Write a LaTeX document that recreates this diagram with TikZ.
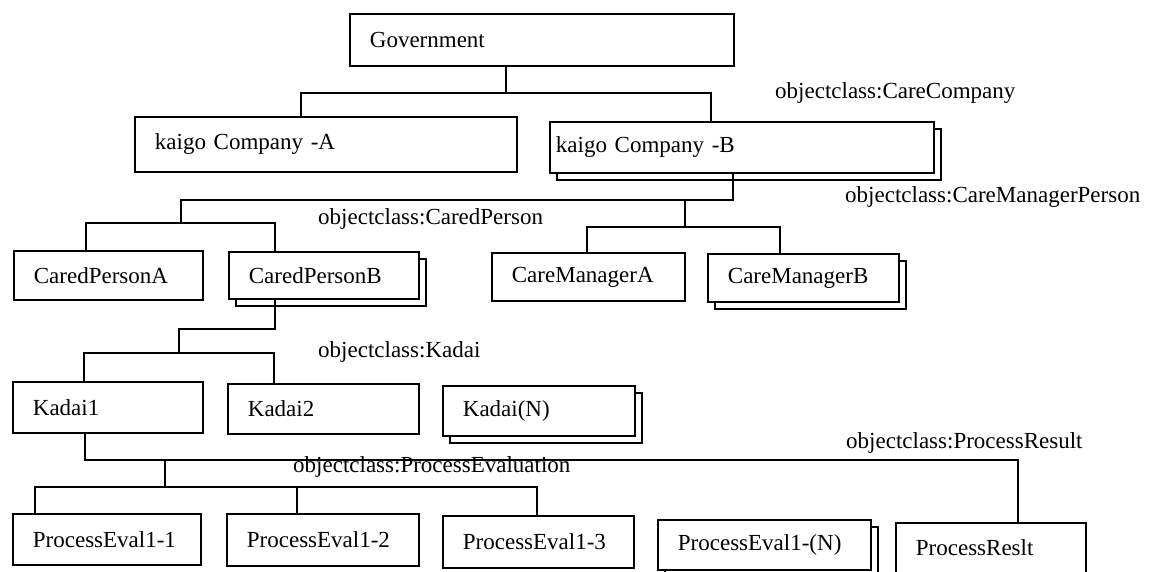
\documentclass[tikz,border=0pt]{standalone}
\usepackage{fontspec}
\setmainfont{Liberation Serif}
\usetikzlibrary{shadows}
\begin{document}
\begin{tikzpicture}[x=1pt,y=-1pt,
  every node/.style={font=\fontsize{23}{27}\selectfont},
  box/.style 2 args={draw, fill=white, line width=1.8pt, inner xsep=20pt,
    inner ysep=0pt, text width=#1, minimum height=#2, align=left,
    anchor=north west},
  stack/.style={copy shadow={shadow xshift=7pt, shadow yshift=-7pt}},
  link/.style={line width=1.8pt},
  cls/.style={anchor=west, inner sep=0pt}]
\useasboundingbox (0,0) rectangle (1158,571);

% level 0
\node[box={344pt}{52pt}] (gov) at (349,13) {Government};
% level 1: care companies
\node[box={342pt}{55pt}] (kA) at (134,116) {kaigo Company -A};
\node[box={372pt}{51pt}, inner xsep=6pt, stack] (kB) at (549,121) {kaigo Company -B};
% level 2: cared persons and care managers
\node[box={149pt}{49pt}] (cpA) at (13,250) {CaredPersonA};
\node[box={150pt}{47pt}, stack] (cpB) at (228,251) {CaredPersonB};
\node[box={153pt}{48pt}] (cmA) at (491,252) {CareManagerA};
\node[box={151pt}{48pt}, stack] (cmB) at (707,253) {CareManagerB};
% level 3: kadai
\node[box={150pt}{51pt}] (k1) at (12,381) {Kadai1};
\node[box={151pt}{50pt}] (k2) at (227,383) {Kadai2};
\node[box={152pt}{50pt}, stack] (kN) at (442,385) {Kadai(N)};
% level 4: process evaluations and result
\node[box={148pt}{51pt}] (pe1) at (12,513) {ProcessEval1-1};
\node[box={152pt}{52pt}] (pe2) at (226,513) {ProcessEval1-2};
\node[box={151pt}{52pt}] (pe3) at (442,515) {ProcessEval1-3};
\node[box={173pt}{50pt}, stack] (peN) at (657,519) {ProcessEval1-(N)};
\node[box={150pt}{50pt}] (pr) at (895,522) {ProcessReslt};

% object class labels
\node[cls] (lcc) at (775,93) {objectclass:CareCompany};
\node[cls] (lcp) at (318,219) {objectclass:CaredPerson};
\node[cls] (lcm) at (845,197) {objectclass:CareManagerPerson};
\node[cls] (lk) at (318,352) {objectclass:Kadai};
\node[cls] (lpe) at (293,467) {objectclass:ProcessEvaluation};
\node[cls] (lpr) at (846,443) {objectclass:ProcessResult};

% junctions of the tree
\coordinate (j1) at (506,93);
\coordinate (j2) at (733,200);
\coordinate (j3) at (181,223);
\coordinate (j4) at (685,227);
\coordinate (j5) at (179,329);
\coordinate (j6) at (179,353);
\coordinate (j7) at (165,460);
\coordinate (j8) at (165,487);

% government -> companies
\draw[link] (gov.south -| j1) -- (j1);
\draw[link] ([xshift=167pt]kA.north west) |- (j1) -| ([xshift=162pt]kB.north west);
% company B -> cared persons
\draw[link] (kB.south -| j2) -- (j2) -| (j3);
\draw[link] ([xshift=73pt]cpA.north west) |- (j3) -| ([xshift=47pt]cpB.north west);
% company B -> care managers
\draw[link] (j4 |- j2) -- (j4);
\draw[link] ([xshift=96pt]cmA.north west) |- (j4) -| ([xshift=73pt]cmB.north west);
% cared person B -> kadai
\draw[link] ([xshift=47pt]cpB.south west) |- (j5) -- (j6);
\draw[link] ([xshift=72pt]k1.north west) |- (j6) -| ([xshift=47pt]k2.north west);
% kadai1 -> process evaluations and result
\draw[link] ([xshift=73pt]k1.south west) |- (j7) -| ([xshift=123pt]pr.north west);
\draw[link] (j7) -- (j8);
\draw[link] ([xshift=23pt]pe1.north west) |- (j8) -| ([xshift=71pt]pe2.north west);
\draw[link] (j8) -| ([xshift=95pt]pe3.north west);
\end{tikzpicture}
\end{document}
